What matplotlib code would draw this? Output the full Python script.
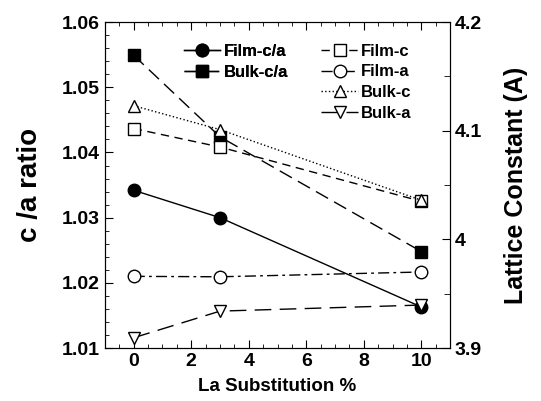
import numpy as np
import matplotlib.pyplot as plt
from matplotlib.ticker import MultipleLocator

plt.rcParams['font.family'] = ['Liberation Sans', 'DejaVu Sans']
plt.rcParams['font.weight'] = 'bold'

la = [0, 3, 10]
film_ca = [1.0342, 1.0300, 1.0163]
bulk_ca = [1.0549, 1.0424, 1.0248]
film_c = [4.102, 4.085, 4.035]
film_a = [3.966, 3.9656, 3.970]
bulk_c = [4.123, 4.101, 4.036]
bulk_a = [3.9095, 3.934, 3.9396]

fig = plt.figure(figsize=(5.41, 4.01), dpi=100)
ax = fig.add_axes([0.194, 0.132, 0.638, 0.813])
ax2 = ax.twinx()

l1, = ax.plot(la, film_ca, 'k-', marker='o', ms=9, lw=1, label='Film-c/a')
l2, = ax.plot(la, bulk_ca, 'k-', marker='s', ms=9, lw=1, dashes=(10, 5), label='Bulk-c/a')

r1, = ax2.plot(la, film_c, 'k-', marker='s', ms=9, mfc='white', lw=1, dashes=(6, 4), label='Film-c')
r2, = ax2.plot(la, film_a, 'k-', marker='o', ms=9, mfc='white', lw=1, dashes=(8, 3, 2, 3), label='Film-a')
r3, = ax2.plot(la, bulk_c, 'k:', marker='^', ms=9, mfc='white', lw=1, label='Bulk-c')
r4, = ax2.plot(la, bulk_a, 'k-', marker='v', ms=9, mfc='white', lw=1, dashes=(12, 6), label='Bulk-a')

ax.set_xlim(-1, 11)
ax.set_ylim(1.01, 1.06)
ax2.set_ylim(3.9, 4.2)

ax.xaxis.set_major_locator(MultipleLocator(2))
ax.xaxis.set_minor_locator(MultipleLocator(0.5))
ax.yaxis.set_major_locator(MultipleLocator(0.01))
ax.yaxis.set_minor_locator(MultipleLocator(0.002))
ax2.yaxis.set_major_locator(MultipleLocator(0.1))
ax2.yaxis.set_minor_locator(MultipleLocator(0.05))
ax.set_yticks([1.01, 1.02, 1.03, 1.04, 1.05, 1.06])
ax.set_yticklabels(['1.01', '1.02', '1.03', '1.04', '1.05', '1.06'])
ax2.set_yticks([3.9, 4.0, 4.1, 4.2])
ax2.set_yticklabels(['3.9', '4', '4.1', '4.2'])

ax.tick_params(axis='both', which='both', direction='in', top=True, labelsize=14)
ax.tick_params(which='major', length=6)
ax.tick_params(which='minor', length=3)
ax2.tick_params(axis='y', which='both', direction='in', labelsize=14)
ax2.tick_params(which='major', length=6)
ax2.tick_params(which='minor', length=4)

ax.set_xlabel('La Substitution %', fontsize=13.5, fontweight='bold', labelpad=6)
ax.set_ylabel('c /a ratio', fontsize=20, fontweight='bold', labelpad=14)
ax2.set_ylabel('Lattice Constant (A)', fontsize=18, fontweight='bold', labelpad=16)

leg1 = ax.legend(handles=[l1, l2], loc='upper left', bbox_to_anchor=(0.185, 0.98),
                 frameon=False, fontsize=12, handlelength=2.2, handletextpad=0.2,
                 labelspacing=0.4)
ax.add_artist(leg1)
ax2.legend(handles=[r1, r2, r3, r4], loc='upper left', bbox_to_anchor=(0.583, 0.98),
           frameon=False, fontsize=12, handlelength=2.2, handletextpad=0.2,
           labelspacing=0.35)

fig.savefig('out.png', dpi=100)
